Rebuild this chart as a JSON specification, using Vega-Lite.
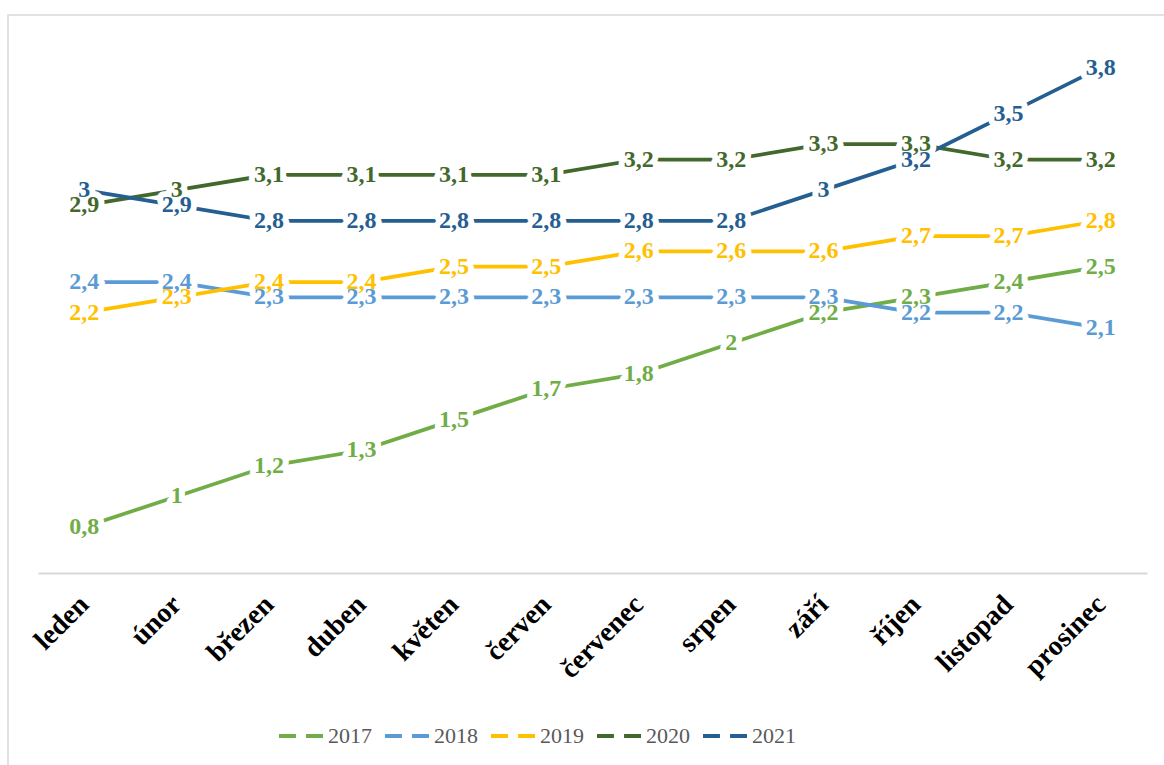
{
  "$schema": "https://vega.github.io/schema/vega-lite/v6.json",
  "width": 1168,
  "height": 762,
  "autosize": {"type": "none"},
  "padding": {"left": 8, "top": 15, "right": -12, "bottom": -12},
  "background": "white",
  "config": {
    "view": {"stroke": "#D9D9D9", "strokeWidth": 1.5},
    "locale": {
      "number": {"decimal": ",", "thousands": " ", "grouping": [3], "currency": ["", " Kč"]}
    },
    "font": "Liberation Serif, serif"
  },
  "data": {
    "values": [
      {"mesic": "leden", "rok": "2017", "hodnota": 0.8},
      {"mesic": "únor", "rok": "2017", "hodnota": 1.0},
      {"mesic": "březen", "rok": "2017", "hodnota": 1.2},
      {"mesic": "duben", "rok": "2017", "hodnota": 1.3},
      {"mesic": "květen", "rok": "2017", "hodnota": 1.5},
      {"mesic": "červen", "rok": "2017", "hodnota": 1.7},
      {"mesic": "červenec", "rok": "2017", "hodnota": 1.8},
      {"mesic": "srpen", "rok": "2017", "hodnota": 2.0},
      {"mesic": "září", "rok": "2017", "hodnota": 2.2},
      {"mesic": "říjen", "rok": "2017", "hodnota": 2.3},
      {"mesic": "listopad", "rok": "2017", "hodnota": 2.4},
      {"mesic": "prosinec", "rok": "2017", "hodnota": 2.5},

      {"mesic": "leden", "rok": "2018", "hodnota": 2.4},
      {"mesic": "únor", "rok": "2018", "hodnota": 2.4},
      {"mesic": "březen", "rok": "2018", "hodnota": 2.3},
      {"mesic": "duben", "rok": "2018", "hodnota": 2.3},
      {"mesic": "květen", "rok": "2018", "hodnota": 2.3},
      {"mesic": "červen", "rok": "2018", "hodnota": 2.3},
      {"mesic": "červenec", "rok": "2018", "hodnota": 2.3},
      {"mesic": "srpen", "rok": "2018", "hodnota": 2.3},
      {"mesic": "září", "rok": "2018", "hodnota": 2.3},
      {"mesic": "říjen", "rok": "2018", "hodnota": 2.2},
      {"mesic": "listopad", "rok": "2018", "hodnota": 2.2},
      {"mesic": "prosinec", "rok": "2018", "hodnota": 2.1},

      {"mesic": "leden", "rok": "2019", "hodnota": 2.2},
      {"mesic": "únor", "rok": "2019", "hodnota": 2.3},
      {"mesic": "březen", "rok": "2019", "hodnota": 2.4},
      {"mesic": "duben", "rok": "2019", "hodnota": 2.4},
      {"mesic": "květen", "rok": "2019", "hodnota": 2.5},
      {"mesic": "červen", "rok": "2019", "hodnota": 2.5},
      {"mesic": "červenec", "rok": "2019", "hodnota": 2.6},
      {"mesic": "srpen", "rok": "2019", "hodnota": 2.6},
      {"mesic": "září", "rok": "2019", "hodnota": 2.6},
      {"mesic": "říjen", "rok": "2019", "hodnota": 2.7},
      {"mesic": "listopad", "rok": "2019", "hodnota": 2.7},
      {"mesic": "prosinec", "rok": "2019", "hodnota": 2.8},

      {"mesic": "leden", "rok": "2020", "hodnota": 2.9},
      {"mesic": "únor", "rok": "2020", "hodnota": 3.0},
      {"mesic": "březen", "rok": "2020", "hodnota": 3.1},
      {"mesic": "duben", "rok": "2020", "hodnota": 3.1},
      {"mesic": "květen", "rok": "2020", "hodnota": 3.1},
      {"mesic": "červen", "rok": "2020", "hodnota": 3.1},
      {"mesic": "červenec", "rok": "2020", "hodnota": 3.2},
      {"mesic": "srpen", "rok": "2020", "hodnota": 3.2},
      {"mesic": "září", "rok": "2020", "hodnota": 3.3},
      {"mesic": "říjen", "rok": "2020", "hodnota": 3.3},
      {"mesic": "listopad", "rok": "2020", "hodnota": 3.2},
      {"mesic": "prosinec", "rok": "2020", "hodnota": 3.2},

      {"mesic": "leden", "rok": "2021", "hodnota": 3.0},
      {"mesic": "únor", "rok": "2021", "hodnota": 2.9},
      {"mesic": "březen", "rok": "2021", "hodnota": 2.8},
      {"mesic": "duben", "rok": "2021", "hodnota": 2.8},
      {"mesic": "květen", "rok": "2021", "hodnota": 2.8},
      {"mesic": "červen", "rok": "2021", "hodnota": 2.8},
      {"mesic": "červenec", "rok": "2021", "hodnota": 2.8},
      {"mesic": "srpen", "rok": "2021", "hodnota": 2.8},
      {"mesic": "září", "rok": "2021", "hodnota": 3.0},
      {"mesic": "říjen", "rok": "2021", "hodnota": 3.2},
      {"mesic": "listopad", "rok": "2021", "hodnota": 3.5},
      {"mesic": "prosinec", "rok": "2021", "hodnota": 3.8}
    ]
  },
  "encoding": {
    "x": {
      "field": "mesic",
      "type": "nominal",
      "sort": ["leden", "únor", "březen", "duben", "květen", "červen", "červenec", "srpen", "září", "říjen", "listopad", "prosinec"],
      "scale": {"type": "point", "padding": 0.5, "range": [30, 1139]},
      "axis": {
        "title": null,
        "offset": -204,
        "domainColor": "#D9D9D9",
        "domainWidth": 2,
        "ticks": false,
        "grid": false,
        "labelAngle": -45,
        "labelAlign": "right",
        "labelBaseline": "middle",
        "labelPadding": 27,
        "labelFont": "Liberation Serif, serif",
        "labelFontWeight": "bold",
        "labelFontSize": 28,
        "labelColor": "#000000"
      }
    },
    "y": {
      "field": "hodnota",
      "type": "quantitative",
      "scale": {"domain": [0.5, 4.0], "range": [558, 22], "nice": false, "zero": false},
      "axis": null
    }
  },
  "layer": [
    {
      "mark": {"type": "line", "strokeWidth": 3.75, "strokeCap": "round", "strokeJoin": "round"},
      "encoding": {
        "color": {
          "field": "rok",
          "type": "nominal",
          "scale": {
            "domain": ["2017", "2018", "2019", "2020", "2021"],
            "range": ["#70AD47", "#5B9BD5", "#FFC000", "#43682B", "#255E91"]
          },
          "legend": {
            "title": null,
            "orient": "none",
            "legendX": 269,
            "legendY": 697,
            "direction": "horizontal",
            "padding": 0,
            "symbolType": "M-1,0H-0.23M0.23,0H1",
            "symbolSize": 1936,
            "symbolStrokeWidth": 4,
            "labelFont": "Liberation Serif, serif",
            "labelFontSize": 22,
            "labelColor": "#595959",
            "labelOffset": 3,
            "columnPadding": 5
          }
        }
      }
    },
    {
      "mark": {
        "type": "text",
        "font": "Liberation Serif, serif",
        "fontWeight": "bold",
        "fontSize": 24,
        "baseline": "middle",
        "align": "center",
        "fill": "white",
        "stroke": "white",
        "strokeWidth": 12,
        "strokeJoin": "round"
      },
      "encoding": {
        "text": {"field": "hodnota", "type": "quantitative", "format": ".1~f"}
      }
    },
    {
      "mark": {
        "type": "text",
        "font": "Liberation Serif, serif",
        "fontWeight": "bold",
        "fontSize": 24,
        "baseline": "middle",
        "align": "center"
      },
      "encoding": {
        "text": {"field": "hodnota", "type": "quantitative", "format": ".1~f"},
        "color": {"field": "rok", "type": "nominal", "legend": null}
      }
    }
  ]
}
